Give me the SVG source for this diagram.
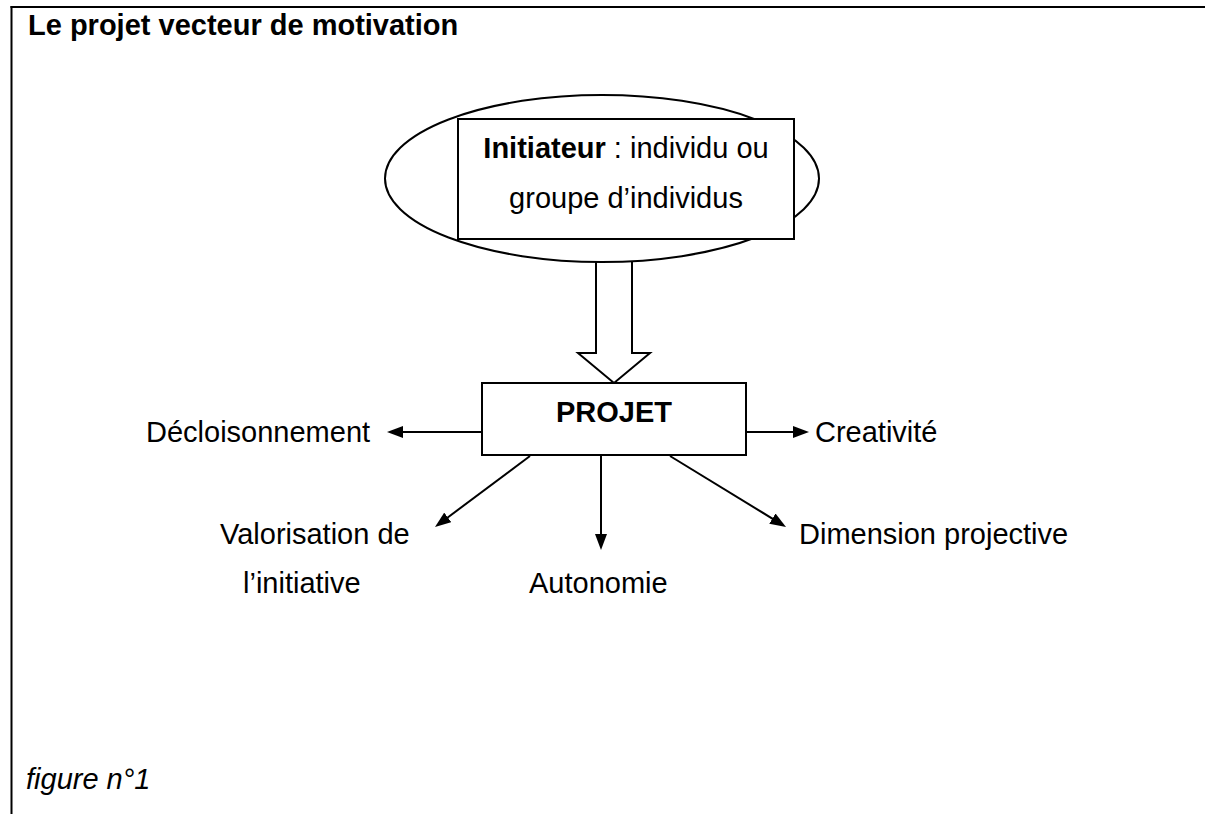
<svg xmlns="http://www.w3.org/2000/svg" width="1205" height="814" viewBox="0 0 1205 814">
  <defs>
    <style>
      .txt { font-family: "Liberation Sans", Arial, sans-serif; font-size: 29px; fill: #000; }
      .bold { font-weight: bold; }
      .ital { font-style: italic; }
      .shape { fill: #fff; stroke: #000; stroke-width: 2; }
      .link { stroke: #000; stroke-width: 2; fill: none; marker-end: url(#head); }
    </style>
    <marker id="head" markerUnits="userSpaceOnUse" markerWidth="16" markerHeight="12" refX="8" refY="6" orient="auto">
      <path d="M0,0 L16,6 L0,12 z" fill="#000"/>
    </marker>
  </defs>
  <rect width="1205" height="814" fill="#fff"/>

  <!-- frame: top rule and left rule -->
  <g id="frame" stroke="#000" stroke-width="2" fill="none">
    <line x1="10.5" y1="7" x2="1205" y2="7"/>
    <line x1="11.5" y1="6" x2="11.5" y2="814"/>
  </g>

  <text id="title" class="txt bold" x="28" y="35">Le projet vecteur de motivation</text>

  <!-- hollow block arrow from the initiator to the project -->
  <g id="flow">
    <polygon class="shape" points="596,258 596,353 578,353 614,383 650,353 632,353 632,258"/>
  </g>

  <g id="initiateur">
    <ellipse class="shape" cx="602" cy="178.5" rx="217" ry="83.5"/>
    <rect class="shape" x="458" y="119" width="336" height="120"/>
    <text class="txt" x="626" y="158" text-anchor="middle"><tspan class="bold">Initiateur</tspan> : individu ou</text>
    <text class="txt" x="626" y="208" text-anchor="middle">groupe d’individus</text>
  </g>

  <g id="projet">
    <rect class="shape" x="482" y="383" width="264" height="72"/>
    <text class="txt bold" x="614" y="422" text-anchor="middle">PROJET</text>
  </g>

  <g id="connectors">
    <line class="link" x1="482" y1="432" x2="395" y2="432"/>
    <line class="link" x1="746" y1="432" x2="801" y2="432"/>
    <line class="link" x1="601" y1="455" x2="601" y2="542"/>
    <line class="link" x1="530" y1="456" x2="441.4" y2="522.2"/>
    <line class="link" x1="670" y1="456" x2="779.2" y2="522.8"/>
  </g>

  <g id="decloisonnement"><text class="txt" x="146" y="442">Décloisonnement</text></g>
  <g id="creativite"><text class="txt" x="815" y="442">Creativité</text></g>
  <g id="valorisation">
    <text class="txt" x="220" y="544">Valorisation de</text>
    <text class="txt" x="243" y="593">l’initiative</text>
  </g>
  <g id="autonomie"><text class="txt" x="529" y="593">Autonomie</text></g>
  <g id="dimension"><text class="txt" x="799" y="544">Dimension projective</text></g>

  <text id="caption" class="txt ital" x="26" y="789">figure n°1</text>
</svg>
